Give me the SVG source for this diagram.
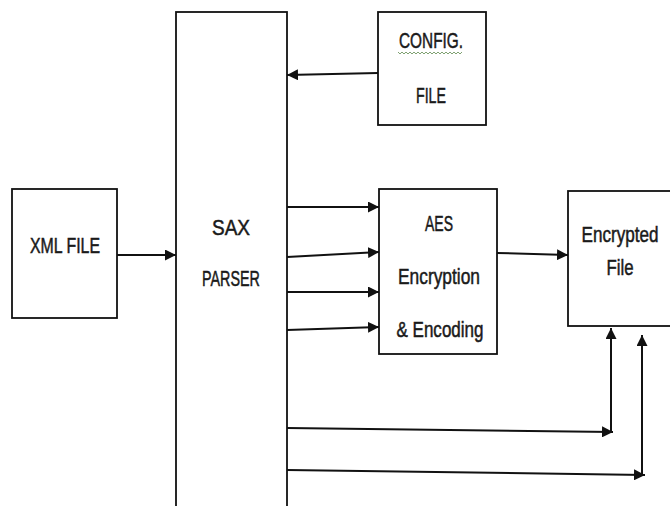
<svg xmlns="http://www.w3.org/2000/svg" width="670" height="506" viewBox="0 0 670 506">
<style>
.box{fill:#fff;stroke:#111;stroke-width:1.8}
.lbl{font-family:"Liberation Sans",sans-serif;font-size:22px;fill:#1a1a1a;stroke:#1a1a1a;stroke-width:0.5;text-anchor:middle}
.con{fill:none;stroke:#111;stroke-width:2}
</style>
<defs>
<marker id="ah" viewBox="0 0 10 10" refX="10" refY="5" markerWidth="11" markerHeight="11" markerUnits="userSpaceOnUse" orient="auto">
<path d="M0,0 L10,5 L0,10 z" fill="#111"/>
</marker>
</defs>
<rect width="670" height="506" fill="#fff"/>
<g id="xml-file">
<rect class="box" x="12" y="189" width="105" height="129"/>
<text class="lbl" x="65" y="253" textLength="70" lengthAdjust="spacingAndGlyphs">XML FILE</text>
</g>
<g id="sax-parser">
<rect class="box" x="176" y="12" width="111" height="510"/>
<text class="lbl" x="231" y="235" textLength="38" lengthAdjust="spacingAndGlyphs">SAX</text>
<text class="lbl" x="231" y="286" textLength="58" lengthAdjust="spacingAndGlyphs">PARSER</text>
</g>
<g id="config-file">
<rect class="box" x="378" y="12" width="108" height="113"/>
<text class="lbl" x="431" y="48" textLength="64" lengthAdjust="spacingAndGlyphs">CONFIG.</text>
<path d="M398,52 l2,2 l2,-2 l2,2 l2,-2 l2,2 l2,-2 l2,2 l2,-2 l2,2 l2,-2 l2,2 l2,-2 l2,2 l2,-2 l2,2 l2,-2 l2,2 l2,-2 l2,2 l2,-2 l2,2 l2,-2 l2,2 l2,-2 l2,2 l2,-2 l2,2 l2,-2 l2,2 l2,-2 l2,2 l2,-2" fill="none" stroke="#5f8a4f" stroke-width="0.8"/>
<text class="lbl" x="431" y="103" textLength="30" lengthAdjust="spacingAndGlyphs">FILE</text>
</g>
<g id="aes">
<rect class="box" x="379" y="189" width="118" height="165"/>
<text class="lbl" x="439" y="231" textLength="28" lengthAdjust="spacingAndGlyphs">AES</text>
<text class="lbl" x="439" y="284" textLength="82" lengthAdjust="spacingAndGlyphs">Encryption</text>
<text class="lbl" x="440" y="337" textLength="87" lengthAdjust="spacingAndGlyphs">&amp; Encoding</text>
</g>
<g id="encrypted-file">
<rect class="box" x="568" y="191" width="110" height="135"/>
<text class="lbl" x="620" y="242" textLength="77" lengthAdjust="spacingAndGlyphs">Encrypted</text>
<text class="lbl" x="620" y="275" textLength="27" lengthAdjust="spacingAndGlyphs">File</text>
</g>
<g id="connectors">
<line class="con" x1="117" y1="255" x2="176" y2="255" marker-end="url(#ah)"/>
<line class="con" x1="378" y1="73" x2="287" y2="75" marker-end="url(#ah)"/>
<line class="con" x1="287" y1="207" x2="379" y2="207" marker-end="url(#ah)"/>
<line class="con" x1="287" y1="257" x2="379" y2="252" marker-end="url(#ah)"/>
<line class="con" x1="287" y1="292" x2="379" y2="292" marker-end="url(#ah)"/>
<line class="con" x1="287" y1="330" x2="379" y2="327" marker-end="url(#ah)"/>
<line class="con" x1="497" y1="253" x2="568" y2="255" marker-end="url(#ah)"/>
<line class="con" x1="287" y1="428" x2="613" y2="432" marker-end="url(#ah)"/>
<line class="con" x1="611" y1="432" x2="611" y2="328" marker-end="url(#ah)"/>
<line class="con" x1="287" y1="470" x2="645" y2="475" marker-end="url(#ah)"/>
<line class="con" x1="642" y1="475" x2="642" y2="335" marker-end="url(#ah)"/>
</g>
</svg>
